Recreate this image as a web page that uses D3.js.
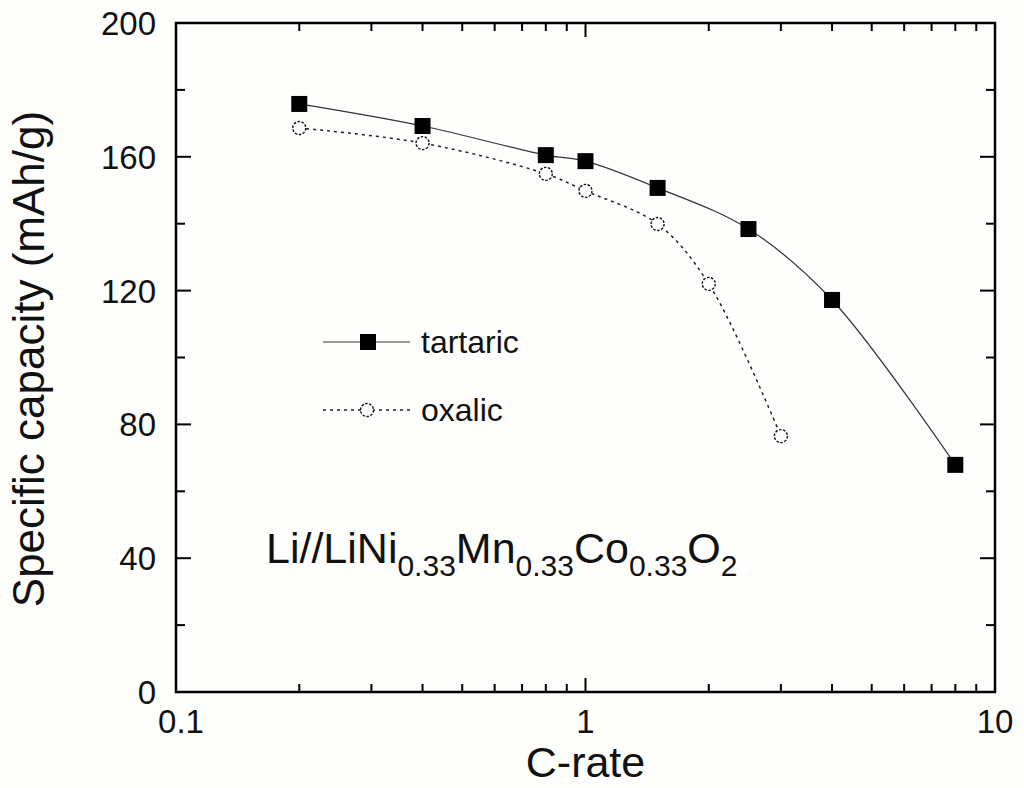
<!DOCTYPE html>
<html><head><meta charset="utf-8">
<script src="https://cdn.jsdelivr.net/npm/d3@7"></script>
<style>body{margin:0;background:#fefefc}svg{display:block}</style>
</head><body>
<svg id="c" width="1024" height="788"></svg>
<script>
const rates = [0.2, 0.4, 0.8, 1.0, 1.5, 2.5, 4, 8];
const tartaric = [175.8, 169.2, 160.5, 158.7, 150.7, 138.4, 117.2, 67.9];
const oxalicRates = [0.2, 0.4, 0.8, 1.0, 1.5, 2.0, 3.0];
const oxalic = [168.6, 164.1, 154.9, 149.8, 139.9, 122.0, 76.5];
const yTicks = [0, 40, 80, 120, 160, 200];
const xTickLabels = [0.1, 1, 10];

const svg = d3.select("#c");
const L = 176, R = 995, T = 23, B = 692;
const x = d3.scaleLog().domain([0.1, 10]).range([L, R]);
const y = d3.scaleLinear().domain([0, 200]).range([B, T]);
const font = "Liberation Sans, Arial, sans-serif";
const ink = "#111";

svg.append("rect").attr("width",1024).attr("height",788).attr("fill","#fefefc");

// ticks (inward)
const minorX = [];
for (let d of [0.1, 1]) for (let k = 2; k <= 9; k++) minorX.push(d * k);
const g = svg.append("g").attr("stroke","#000").attr("stroke-width",2);
minorX.forEach(v => {
  g.append("line").attr("x1",x(v)).attr("x2",x(v)).attr("y1",B).attr("y2",B-8);
  g.append("line").attr("x1",x(v)).attr("x2",x(v)).attr("y1",T).attr("y2",T+8);
});
xTickLabels.forEach(v => {
  g.append("line").attr("x1",x(v)).attr("x2",x(v)).attr("y1",B).attr("y2",B-14);
  g.append("line").attr("x1",x(v)).attr("x2",x(v)).attr("y1",T).attr("y2",T+14);
});
for (let v = 0; v <= 200; v += 20) {
  const len = (v % 40 === 0) ? 15 : 9;
  g.append("line").attr("x1",L).attr("x2",L+len).attr("y1",y(v)).attr("y2",y(v));
  g.append("line").attr("x1",R).attr("x2",R-len).attr("y1",y(v)).attr("y2",y(v));
}
svg.append("rect").attr("x",L).attr("y",T).attr("width",R-L).attr("height",B-T)
  .attr("fill","none").attr("stroke","#000").attr("stroke-width",2.5);

// tick labels
yTicks.forEach(v => {
  svg.append("text").attr("x",L-20).attr("y",y(v)+12).attr("text-anchor","end")
    .attr("font-family",font).attr("font-size",33).attr("fill",ink).text(v);
});
xTickLabels.forEach((v,i) => {
  svg.append("text").attr("x",x(v) + (i === 0 ? 5 : 0)).attr("y",B+41).attr("text-anchor","middle")
    .attr("font-family",font).attr("font-size",33).attr("fill",ink).text(v);
});
svg.append("text").attr("x",x(1)).attr("y",777).attr("text-anchor","middle")
  .attr("font-family",font).attr("font-size",43).attr("fill",ink).text("C-rate");
svg.append("text").attr("transform","translate(44,359) rotate(-90)").attr("text-anchor","middle")
  .attr("font-family",font).attr("font-size",44).attr("fill",ink).text("Specific capacity (mAh/g)");

// lines
const line = d3.line().x(d => x(d[0])).y(d => y(d[1])).curve(d3.curveCatmullRom.alpha(0.5));
const tData = rates.map((r,i)=>[r, tartaric[i]]);
const oData = oxalicRates.map((r,i)=>[r, oxalic[i]]);
svg.append("path").attr("d", line(tData)).attr("fill","none").attr("stroke","#333").attr("stroke-width",1.2);
svg.append("path").attr("d", line(oData)).attr("fill","none").attr("stroke","#222").attr("stroke-width",1.5)
  .attr("stroke-dasharray","3,4");

// markers
svg.selectAll(".sq").data(tData).enter().append("rect")
  .attr("x", d => x(d[0]) - 8).attr("y", d => y(d[1]) - 8).attr("width",16).attr("height",16).attr("fill","#000");
svg.selectAll(".ci").data(oData).enter().append("circle")
  .attr("cx", d => x(d[0])).attr("cy", d => y(d[1])).attr("r",6.5)
  .attr("fill","#fefefc").attr("stroke","#111").attr("stroke-width",1.4).attr("stroke-dasharray","2.5,1.5");

// legend
svg.append("line").attr("x1",323).attr("x2",410).attr("y1",342).attr("y2",342).attr("stroke","#333").attr("stroke-width",1.2);
svg.append("rect").attr("x",360).attr("y",334).attr("width",16).attr("height",16).attr("fill","#000");
svg.append("text").attr("x",421).attr("y",353).attr("font-family",font).attr("font-size",32).attr("fill",ink).text("tartaric");
svg.append("line").attr("x1",323).attr("x2",410).attr("y1",410).attr("y2",410).attr("stroke","#222").attr("stroke-width",1.5).attr("stroke-dasharray","3,4");
svg.append("circle").attr("cx",367).attr("cy",410).attr("r",6.5).attr("fill","#fefefc").attr("stroke","#111").attr("stroke-width",1.4).attr("stroke-dasharray","2.5,1.5");
svg.append("text").attr("x",421).attr("y",421).attr("font-family",font).attr("font-size",32).attr("fill",ink).text("oxalic");

// annotation
const ann = svg.append("text").attr("x",266).attr("y",563).attr("font-family",font).attr("font-size",43).attr("fill",ink);
const parts = [["Li//LiNi",false],["0.33",true],["Mn",false],["0.33",true],["Co",false],["0.33",true],["O",false],["2",true]];
parts.forEach(([t,sub], i) => {
  const ts = ann.append("tspan").text(t);
  if (sub) ts.attr("font-size",30).attr("dy",13);
  else ts.attr("dy", i > 0 ? -13 : 0);
});
</script>
</body></html>
